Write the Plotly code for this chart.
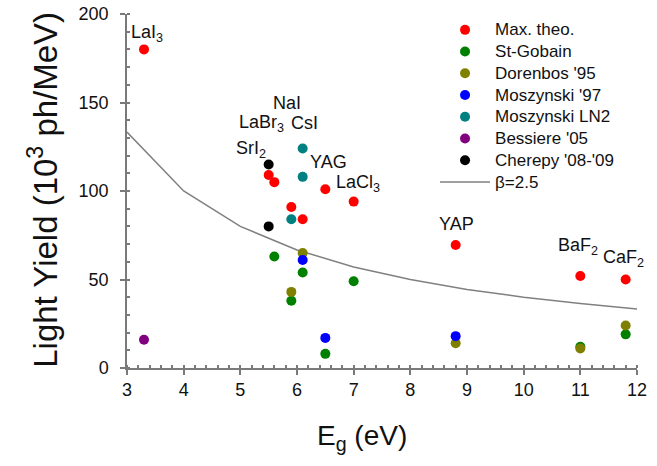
import plotly.graph_objects as go

# Band gap (eV) and light yield (10^3 ph/MeV) per data source
max_theo_x = [3.3, 5.5, 5.6, 5.9, 6.1, 6.5, 7.0, 8.8, 11.0, 11.8]
max_theo_y = [180, 109, 105, 91, 84, 101, 94, 69.5, 52, 50]

st_gobain_x = [5.6, 6.1, 7.0, 5.9, 6.5, 11.0, 11.8]
st_gobain_y = [63, 54, 49, 38, 8, 12, 19]

dorenbos_x = [6.1, 5.9, 8.8, 11.0, 11.8]
dorenbos_y = [65, 43, 14, 11, 24]

moszynski97_x = [6.1, 6.5, 8.8]
moszynski97_y = [61, 17, 18]

moszynski_ln2_x = [6.1, 6.1, 5.9]
moszynski_ln2_y = [124, 108, 84]

bessiere_x = [3.3]
bessiere_y = [16]

cherepy_x = [5.5, 5.5]
cherepy_y = [115, 80]

# Limit curve for beta = 2.5
beta_x = [3, 4, 5, 6, 7, 8, 9, 10, 11, 12]
beta_y = [133.3, 100, 80, 66.7, 57.1, 50, 44.4, 40, 36.4, 33.3]

# Crystal name labels (text, x, y)
label_text = ["LaI<sub>3</sub>", "NaI", "LaBr<sub>3</sub>", "CsI", "SrI<sub>2</sub>",
              "YAG", "LaCl<sub>3</sub>", "YAP", "BaF<sub>2</sub>", "CaF<sub>2</sub>"]
label_x = [3.36, 5.82, 5.38, 6.14, 5.18, 6.56, 7.07, 8.82, 10.96, 11.77]
label_y = [189, 149.7, 137.9, 138.4, 123.7, 116.4, 104, 81.4, 68.9, 61.6]

series = [
    ("Max. theo.", max_theo_x, max_theo_y, "#ff0000"),
    ("St-Gobain", st_gobain_x, st_gobain_y, "#008000"),
    ("Dorenbos '95", dorenbos_x, dorenbos_y, "#808000"),
    ("Moszynski '97", moszynski97_x, moszynski97_y, "#0000ff"),
    ("Moszynski LN2", moszynski_ln2_x, moszynski_ln2_y, "#008080"),
    ("Bessiere '05", bessiere_x, bessiere_y, "#800080"),
    ("Cherepy '08-'09", cherepy_x, cherepy_y, "#000000"),
]

FONT = "Arial, Liberation Sans, sans-serif"
AXC = "#7a7a7a"


def legend_name(s):
    # legend rows are spaced by the legend font; entry text is drawn a bit larger
    return '<span style="font-size:17px">' + s + "</span>"


fig = go.Figure()

fig.add_trace(go.Scatter(
    x=beta_x, y=beta_y, mode="lines", name=legend_name("β=2.5"),
    line=dict(color="#808080", width=1.5), legendrank=900,
))

for i, (name, xs, ys, col) in enumerate(series):
    fig.add_trace(go.Scatter(
        x=xs, y=ys, mode="markers", name=legend_name(name),
        marker=dict(color=col, size=10, line=dict(width=0)),
        legendrank=100 + i,
    ))

for t, x, y in zip(label_text, label_x, label_y):
    fig.add_annotation(x=x, y=y, text=t, showarrow=False,
                       xanchor="center", yanchor="middle",
                       font=dict(family=FONT, size=18, color="#111111"))

# Axis titles
fig.add_annotation(xref="paper", yref="paper", x=-0.165, y=0.503,
                   text="Light Yield (10<sup>3</sup> ph/MeV)", textangle=-90,
                   showarrow=False, xanchor="center", yanchor="middle",
                   font=dict(family=FONT, size=33, color="#111111"))
fig.add_annotation(xref="paper", yref="paper", x=0.461, y=-0.197,
                   text="E<sub>g</sub> (eV)",
                   showarrow=False, xanchor="center", yanchor="middle",
                   font=dict(family=FONT, size=28, color="#111111"))

common_line = dict(showline=True, linecolor=AXC, linewidth=1.5, showgrid=False,
                   zeroline=False, tickcolor=AXC, tickwidth=1.5, automargin=False)

fig.update_layout(
    width=657, height=466,
    margin=dict(l=127, r=20, t=14, b=98, autoexpand=False),
    paper_bgcolor="white", plot_bgcolor="white",
    font=dict(family=FONT, color="#111111"),
    showlegend=True,
    legend=dict(x=0.604, y=1.0, xanchor="left", yanchor="top",
                bgcolor="rgba(0,0,0,0)", font=dict(size=14.4, family=FONT),
                tracegroupgap=0, itemwidth=50),
    xaxis=dict(range=[3, 12], dtick=1, tick0=3, ticks="outside", ticklen=5,
               minor=dict(dtick=0.2, ticks="inside", ticklen=3, tickcolor=AXC),
               tickfont=dict(size=18),
               **common_line),
    xaxis2=dict(range=[3, 12], overlaying="x", side="bottom", anchor="y",
                dtick=1, tick0=3, ticks="inside", ticklen=5, showticklabels=False,
                showline=False, showgrid=False, zeroline=False,
                tickcolor=AXC, tickwidth=1.5, automargin=False),
    xaxis3=dict(range=[3, 12], overlaying="x", side="top", anchor="y",
                dtick=1, tick0=3, ticks="inside", ticklen=5, showticklabels=False,
                minor=dict(dtick=0.2, ticks="inside", ticklen=3, tickcolor=AXC),
                **common_line),
    yaxis=dict(range=[0, 200], dtick=50, ticks="outside", ticklen=5,
               minor=dict(dtick=10, ticks="inside", ticklen=3, tickcolor=AXC),
               tickfont=dict(size=18), ticklabelstandoff=8,
               **common_line),
    yaxis2=dict(range=[0, 200], overlaying="y", side="right", anchor="x",
                dtick=50, ticks="inside", ticklen=5, showticklabels=False,
                minor=dict(dtick=10, ticks="inside", ticklen=3, tickcolor=AXC),
                **common_line),
)

fig.write_html("out.html")
